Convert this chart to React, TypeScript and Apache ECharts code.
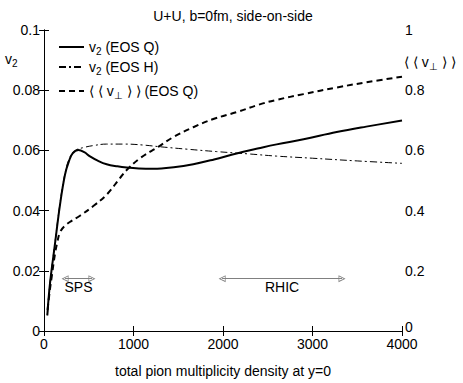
import React, { useEffect, useRef } from 'react';
import * as echarts from 'echarts';

// ---- data ----
const qX = [37, 67, 123, 179, 235, 280, 320, 384, 450, 514, 600, 700, 820, 924, 1060, 1221, 1450, 1668, 1900, 2153, 2400, 2600, 2900, 3270, 3600, 4000];
const qV = [0.0052, 0.0158, 0.029, 0.042, 0.052, 0.0565, 0.059, 0.0601, 0.0594, 0.058, 0.0566, 0.0554, 0.0547, 0.0543, 0.054, 0.0539, 0.0544, 0.0554, 0.057, 0.059, 0.0607, 0.062, 0.0637, 0.0661, 0.0679, 0.0699];

const hX = [37, 67, 123, 179, 235, 290, 350, 450, 550, 700, 900, 1100, 1300, 1600, 1929, 2300, 2600, 3000, 3500, 4000];
const hV = [0.0052, 0.016, 0.0295, 0.0425, 0.0525, 0.0578, 0.06, 0.061, 0.0616, 0.0621, 0.0621, 0.0618, 0.0612, 0.0604, 0.0596, 0.0588, 0.0581, 0.0574, 0.0565, 0.0557];

const pX = [40, 67, 86, 123, 149, 179, 235, 309, 402, 551, 700, 849, 924, 1073, 1277, 1450, 1668, 1900, 2153, 2400, 2600, 2900, 3270, 3600, 4000];
const pV = [0.07, 0.14, 0.18, 0.257, 0.295, 0.328, 0.35, 0.366, 0.383, 0.415, 0.453, 0.508, 0.535, 0.574, 0.612, 0.645, 0.677, 0.705, 0.727, 0.752, 0.768, 0.787, 0.809, 0.826, 0.845];

const rangeNames = ['SPS', 'RHIC'];
const rangeStart = [235, 1990];
const rangeEnd = [536, 3330];
const rangeLevel = 0.0174;

const titleText = 'U+U, b=0fm, side-on-side';
const xName = 'total pion multiplicity density at y=0';

const F = 'Liberation Sans, Arial, Helvetica, sans-serif';

const pairs = (xs: number[], ys: number[]) => xs.map((x, i) => [x, ys[i]]);

const rich = {
  m: { fontSize: 14, fontFamily: F, color: '#000' },
  s: { fontSize: 10, fontFamily: F, color: '#000', padding: [9, 0, 0, 0] },
};

const legendLabels: Record<string, string> = {
  q: '{m|v}{s|2}{m| (EOS Q)}',
  h: '{m|v}{s|2}{m| (EOS H)}',
  p: '{m|⟨ ⟨ v}{s|⊥}{m| ⟩ ⟩ (EOS Q)}',
};

const triangle = 'path://M5,0 L10,10 L0,10 Z M5,2.6 L1.8,9 L8.2,9 Z';

function makeOption() {
  const legendBase = {
    orient: 'vertical' as const,
    left: 53,
    itemWidth: 25,
    itemHeight: 12,
    itemGap: 10,
    formatter: (n: string) => legendLabels[n],
    textStyle: { rich },
    itemStyle: { opacity: 0 },
    selectedMode: false,
  };
  return {
    animation: false,
    backgroundColor: '#fff',
    title: {
      text: titleText,
      left: 228,
      textAlign: 'center',
      top: 4,
      textStyle: { fontSize: 14, fontWeight: 'normal', fontFamily: F, color: '#000' },
    },
    legend: [
      { ...legendBase, top: 35, data: ['q'] },
      { ...legendBase, top: 55, data: ['h'] },
      { ...legendBase, top: 79, data: ['p'] },
    ],
    grid: { left: 44, right: 61, top: 30, bottom: 48, containLabel: false },
    xAxis: [
      {
        type: 'value',
        min: 0,
        max: 4000,
        interval: 1000,
        position: 'bottom',
        name: xName,
        nameLocation: 'middle',
        nameGap: 33,
        nameTextStyle: { fontSize: 14, fontFamily: F, color: '#000' },
        axisLine: { show: true, lineStyle: { color: '#000', width: 1 } },
        axisTick: { show: true, inside: true, length: 5, lineStyle: { color: '#000' } },
        axisLabel: { fontSize: 14, lineHeight: 12, fontFamily: F, color: '#000', margin: 7, formatter: (v: number) => String(v) },
        splitLine: { show: false },
      },
      {
        type: 'value',
        min: 0,
        max: 4000,
        interval: 1000,
        position: 'top',
        axisLine: { show: true, lineStyle: { color: '#000', width: 1 } },
        axisTick: { show: true, inside: true, length: 5, lineStyle: { color: '#000' } },
        axisLabel: { show: false },
        splitLine: { show: false },
      },
    ],
    yAxis: [
      {
        type: 'value',
        min: 0,
        max: 0.1,
        interval: 0.02,
        position: 'left',
        axisLine: { show: true, lineStyle: { color: '#000', width: 1 } },
        axisTick: { show: true, inside: true, length: 5, lineStyle: { color: '#000' } },
        axisLabel: {
          fontSize: 14, lineHeight: 12, fontFamily: F, color: '#000', margin: 4,
          formatter: (v: number) => String(parseFloat(v.toFixed(2))),
        },
        splitLine: { show: false },
      },
      {
        type: 'value',
        min: 0,
        max: 1,
        interval: 0.2,
        position: 'right',
        axisLine: { show: true, lineStyle: { color: '#000', width: 1 } },
        axisTick: { show: true, inside: true, length: 5, lineStyle: { color: '#000' } },
        axisLabel: {
          fontSize: 14, lineHeight: 12, fontFamily: F, color: '#000', margin: 3,
          formatter: (v: number) => (v === 0 ? '{z|0}' : String(parseFloat(v.toFixed(1)))),
          rich: { z: { fontSize: 14, lineHeight: 12, fontFamily: F, color: '#000', padding: [0, 0, 9, 0] } },
        },
        splitLine: { show: false },
      },
    ],
    graphic: [
      {
        type: 'text',
        left: 5,
        top: 52,
        style: { text: '{m|v}{s|2}', rich },
      },
      {
        type: 'text',
        left: 404,
        top: 55,
        style: { text: '{m|⟨ ⟨ v}{s|⊥}{m| ⟩ ⟩}', rich },
      },
    ],
    series: [
      {
        name: 'q',
        type: 'line',
        xAxisIndex: 0,
        yAxisIndex: 0,
        data: pairs(qX, qV),
        showSymbol: false,
        symbol: 'none',
        smooth: 0.4,
        color: '#000',
        lineStyle: { color: '#000', width: 2 },
        markLine: {
          silent: true,
          animation: false,
          symbol: [triangle, triangle],
          symbolSize: [7, 7],
          lineStyle: { color: '#808080', width: 1, type: 'solid' },
          label: {
            show: true,
            position: 'insideMiddleBottom',
            distance: 1,
            fontSize: 14,
            fontFamily: F,
            color: '#000',
            formatter: (p: any) => p.name,
          },
          data: rangeNames.map((n, i) => [
            { name: n, coord: [rangeStart[i], rangeLevel] },
            { coord: [rangeEnd[i], rangeLevel] },
          ]),
        },
      },
      {
        name: 'h',
        type: 'line',
        xAxisIndex: 0,
        yAxisIndex: 0,
        data: pairs(hX, hV),
        showSymbol: false,
        symbol: 'none',
        smooth: 0.4,
        color: '#000',
        lineStyle: { color: '#000', width: 1, type: [7, 3, 2, 3] },
      },
      {
        name: 'p',
        type: 'line',
        xAxisIndex: 0,
        yAxisIndex: 1,
        data: pairs(pX, pV),
        showSymbol: false,
        symbol: 'none',
        smooth: 0.4,
        color: '#000',
        lineStyle: { color: '#000', width: 2, type: [6, 4] },
      },
    ],
  };
}

export default function App() {
  const ref = useRef<HTMLDivElement>(null);
  useEffect(() => {
    const chart = echarts.init(ref.current!, null, { renderer: 'svg' });
    chart.setOption(makeOption() as any);
    return () => chart.dispose();
  }, []);
  return (
    <div
      ref={ref}
      style={{ position: 'fixed', left: 0, top: 0, width: 463, height: 383, background: '#fff' }}
    />
  );
}
